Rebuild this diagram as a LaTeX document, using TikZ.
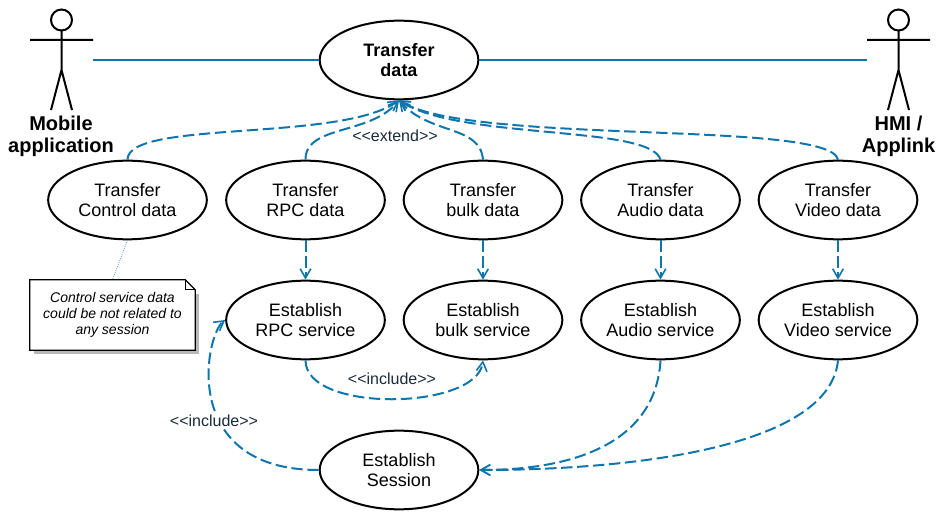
\documentclass[tikz,border=0pt]{standalone}
\usepackage{fontspec}
\setmainfont{Liberation Sans}
\usepackage{xcolor}
\definecolor{link}{HTML}{0F76AD}
\definecolor{ink}{HTML}{1A2A3A}
\definecolor{notegray}{HTML}{B8B8B8}
\usepackage{tikz}
\usetikzlibrary{arrows.meta,positioning,shapes.geometric,calc}
\tikzset{
  usecase/.style={draw,ellipse,line width=1.5pt,fill=white,minimum width=119pt,minimum height=59pt,inner sep=0pt,align=center,font=\fontsize{13.5}{15}\selectfont},
  actorbox/.style={inner sep=0pt,minimum width=47.25pt,minimum height=75pt},
  actorname/.style={align=center,font=\bfseries\fontsize{15}{16.5}\selectfont},
  dep/.style={link,line width=1.5pt,dash pattern=on 8.5pt off 3.5pt,-{Straight Barb[length=7pt,width=8pt,line width=1.2pt]}},
  tag/.style={ink,inner sep=1pt,fill=white,font=\fontsize{12}{14}\selectfont}
}
\begin{document}
\begin{tikzpicture}[x=0.75pt,y=-0.75pt]
  \useasboundingbox (0,0) rectangle (950,520);
  % actors
  \foreach \ax in {61.5,898.5} {
    \draw[line width=1.5pt] (\ax,20) circle (10.5);
    \draw[line width=1.5pt] (\ax,30.5) -- (\ax,70) (\ax-31.5,40) -- (\ax+31.5,40)
       (\ax-10.5,110) -- (\ax,70) -- (\ax+10.5,110);
  }
  \node[actorbox] (mobile) at (61.5,60) {};
  \node[actorbox] (hmi) at (898.5,60) {};
  \node[actorname] (mobilename) at (61,136.5) {Mobile\\application};
  \node[actorname] (hminame) at (898.5,136.5) {HMI /\\Applink};
  % use cases
  \node[usecase,font=\bfseries\fontsize{13.5}{15}\selectfont] (data) at (399,60) {Transfer\\data};
  \node[usecase] (ctrldata) at (127.5,200) {Transfer\\Control data};
  \node[usecase] (rpcdata) at (305.5,200) {Transfer\\RPC data};
  \node[usecase] (bulkdata) at (483,200) {Transfer\\bulk data};
  \node[usecase] (audiodata) at (660.5,200) {Transfer\\Audio data};
  \node[usecase] (videodata) at (838,200) {Transfer\\Video data};
  \node[usecase] (rpcserv) at (305.5,320) {Establish\\RPC service};
  \node[usecase] (bulkserv) at (483,320) {Establish\\bulk service};
  \node[usecase] (audioserv) at (660.5,320) {Establish\\Audio service};
  \node[usecase] (videoserv) at (838,320) {Establish\\Video service};
  \node[usecase] (session) at (399,470) {Establish\\Session};
  % actor links
  \draw[link,line width=1.5pt] (mobile) -- (data);
  \draw[link,line width=1.5pt] (data) -- (hmi);
  % extend
  \draw[dep] (ctrldata.north) .. controls +(0,-40) and +(-59,42) .. (data.south);
  \draw[dep] (rpcdata.north) .. controls +(0,-35) and +(-29,35) .. (data.south);
  \draw[dep] (bulkdata.north) .. controls +(-3,-35) and +(31,35) .. (data.south);
  \draw[dep] (audiodata.north) .. controls +(-10,-35) and +(61,40) .. (data.south);
  \draw[dep] (videodata.north) .. controls +(-8,-40) and +(71,45) .. (data.south);
  \node[tag,fill=none] (extendtag) at (395,136) {<{}<extend>{}>};
  % establish
  \draw[dep] (rpcdata) -- (rpcserv);
  \draw[dep] (bulkdata) -- (bulkserv);
  \draw[dep] (audiodata) -- (audioserv);
  \draw[dep] (videodata) -- (videoserv);
  % include
  \draw[dep] (rpcserv.south) .. controls +(0,53) and +(-6,50) .. (bulkserv.south);
  \node[tag,fill=none] (includeb) at (392,379) {<{}<include>{}>};
  \draw[dep] (session.west) .. controls +(-140,0) and +(-20,15) .. (rpcserv.west);
  \node[tag] (includea) at (214,421) {<{}<include>{}>};
  \draw[dep] (audioserv.south) .. controls +(-5,85) and +(90,0) .. (session.east);
  \draw[dep] (videoserv.south) .. controls +(-8,85) and +(161,0) .. (session.east);
  % note
  \node[inner sep=0pt,minimum width=123.75pt,minimum height=52.5pt] (note) at (112.5,315) {};
  \fill[notegray] ($(note.south west)+(4,4)$) rectangle ($(note.north east)+(4,14)$);
  \draw[fill=white,line width=0.9pt] (note.south west) -- (note.north west) -- ($(note.north east)+(-10,0)$) -- ($(note.north east)+(0,10)$) -- (note.south east) -- cycle;
  \draw[line width=0.6pt] ($(note.north east)+(-10,0)$) -- ($(note.north east)+(-10,10)$) -- ($(note.north east)+(0,10)$);
  \node[align=center,font=\itshape\fontsize{10.5}{12}\selectfont] (notetext) at (note.center) {Control service data\\could be not related to\\any session};
  \draw[link!70,line width=0.6pt,densely dotted] (ctrldata.south) -- (note.north);
\end{tikzpicture}
\end{document}
